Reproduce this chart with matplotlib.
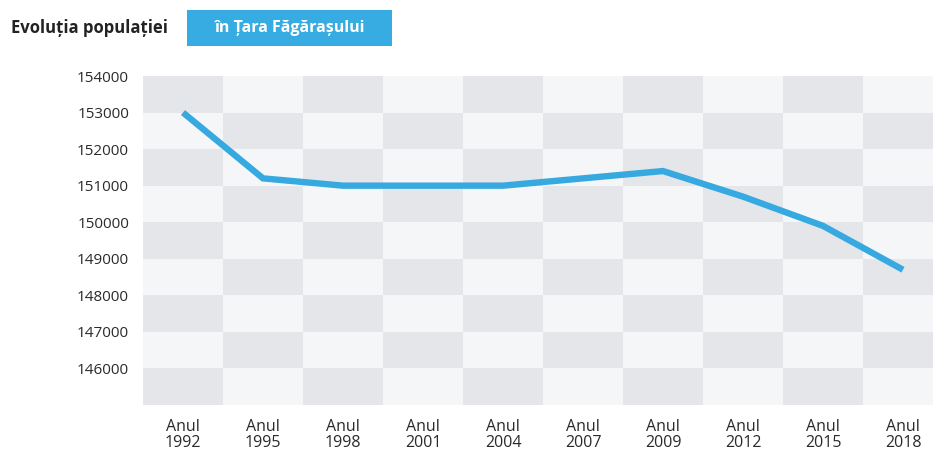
import numpy as np
import matplotlib.pyplot as plt
from matplotlib.patches import Rectangle

plt.rcParams['font.family'] = ['Open Sans', 'DejaVu Sans']

years = ['1992', '1995', '1998', '2001', '2004', '2007', '2009', '2012', '2015', '2018']
population = [153000, 151200, 151000, 151000, 151000, 151200, 151400, 150700, 149900, 148700]
y_ticks = [146000, 147000, 148000, 149000, 150000, 151000, 152000, 153000, 154000]

title = 'Evoluția populației'
region = 'în Țara Făgărașului'

W, H = 933, 450
fig = plt.figure(figsize=(W / 100, H / 100), dpi=100, facecolor='white')

# plot area in pixels (right side runs past the image edge, as in the source)
left, right, top, bottom = 143, 943, 76, 405
ax = fig.add_axes([left / W, 1 - bottom / H, (right - left) / W, (bottom - top) / H])

ymin, ymax = 145000, 154000
n_cols = len(years)
n_rows = (ymax - ymin) // 1000

dark = '#e4e6ea'
light = '#f5f6f7'
for c in range(n_cols):
    for r in range(n_rows):
        # r = 0 is the top row
        color = dark if (r + c) % 2 == 0 else light
        ax.add_patch(Rectangle((c - 0.5, ymax - (r + 1) * 1000), 1, 1000,
                               facecolor=color, edgecolor='none', zorder=0))

x = np.arange(n_cols)
ax.plot(x, population, color='#36a9e1', linewidth=4.6, solid_joinstyle='miter',
        solid_capstyle='butt', zorder=3)

ax.set_xlim(-0.5, n_cols - 0.5)
ax.set_ylim(ymin, ymax)
ax.set_xticks(x)
ax.set_xticklabels(['Anul\n' + y for y in years], fontsize=11.5, color='#2a2a2a',
                   linespacing=1.05)
ax.set_yticks(y_ticks)
ax.set_yticklabels([str(v) for v in y_ticks], fontsize=11, color='#2a2a2a')
ax.tick_params(axis='both', length=0)
ax.tick_params(axis='x', pad=10)
ax.tick_params(axis='y', pad=10)
for s in ax.spines.values():
    s.set_visible(False)

# header
fig.text(11 / W, 1 - 28 / H, title, fontsize=12, fontweight='bold',
         color='#222222', va='center', ha='left')
fig.patches.append(Rectangle((187 / W, 1 - 46 / H), (392 - 187) / W, 36 / H,
                             transform=fig.transFigure, facecolor='#36ace2',
                             edgecolor='none'))
fig.text(290 / W, 1 - 28 / H, region, fontsize=11.5, fontweight='bold',
         color='white', va='center', ha='center')

fig.savefig('out.png', dpi=100)
